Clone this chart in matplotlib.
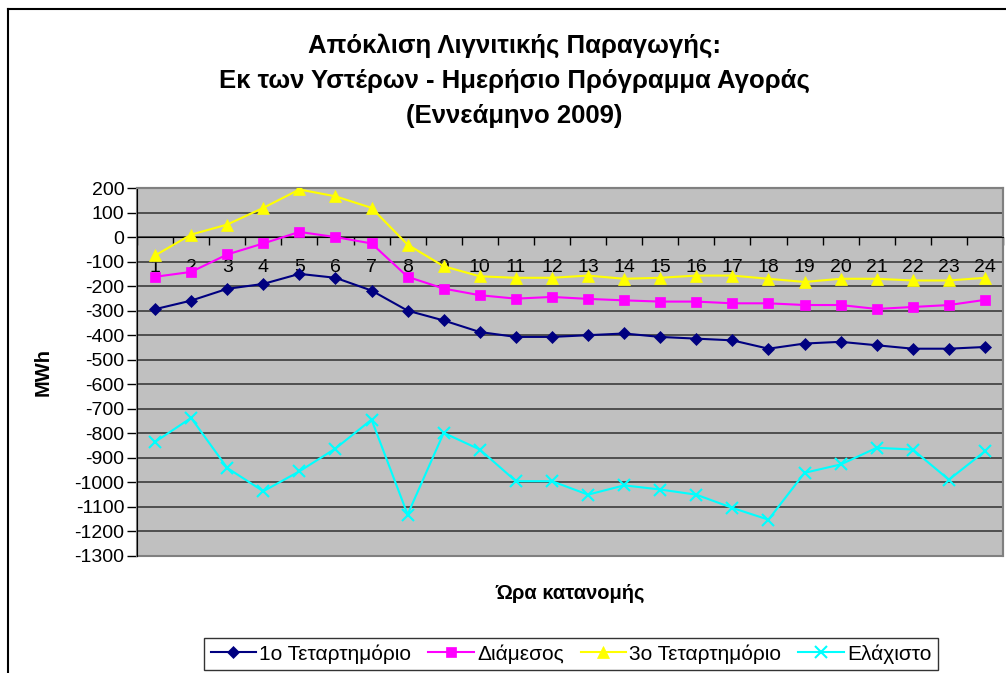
import numpy as np
import matplotlib
matplotlib.use('Agg')
import matplotlib.pyplot as plt
from matplotlib.lines import Line2D
from matplotlib.patches import Rectangle

plt.rcParams['font.family'] = ['Liberation Sans', 'DejaVu Sans']
plt.rcParams['axes.unicode_minus'] = False

# data
hours = list(range(1, 25))
q1 = [-294, -259, -211, -191, -150, -166, -218, -300, -340, -387, -407, -407,
      -400, -393, -407, -414, -421, -455, -434, -427, -441, -455, -455, -448]
median = [-162, -142, -71, -26, 21, 0, -26, -162, -210, -237, -251, -244,
          -252, -258, -263, -263, -270, -270, -277, -277, -293, -285, -277, -256]
q3 = [-75, 10, 51, 119, 194, 166, 119, -31, -119, -160, -166, -166,
      -157, -170, -166, -157, -157, -170, -183, -170, -170, -177, -177, -166]
minimum = [-835, -737, -941, -1036, -955, -862, -744, -1131, -798, -866, -995, -995,
           -1050, -1012, -1029, -1050, -1104, -1152, -961, -927, -859, -866, -989, -873]

labels = ['1ο Τεταρτημόριο', 'Διάμεσος', '3ο Τεταρτημόριο', 'Ελάχιστο']
colors = ['#000080', '#FF00FF', '#FFFF00', '#00FFFF']
markers = ['D', 's', '^', 'x']
msizes = [6, 7, 8.5, 8]

fig = plt.figure(figsize=(10.06, 6.73), dpi=100)
ax = fig.add_axes([137/1006, 1 - 556/673, (1003 - 137)/1006, (556 - 188)/673])
ax.set_facecolor('#C0C0C0')

for vals, lab, c, m, ms in zip([q1, median, q3, minimum], labels, colors, markers, msizes):
    ax.plot(hours, vals, color=c, marker=m, markersize=ms, lw=1.5, label=lab,
            markeredgewidth=1.5 if m == 'x' else 0.5, zorder=3)

ax.set_xlim(0.5, 24.5)
ax.set_ylim(-1300, 200)
ax.set_yticks(np.arange(-1300, 201, 100))
ax.yaxis.grid(True, color='#303030', lw=1.1)
ax.set_axisbelow(True)
ax.tick_params(axis='y', labelsize=14, direction='out', length=7, width=1, pad=2)

# category axis crossing at zero
ax.spines['bottom'].set_position(('data', 0))
ax.spines['bottom'].set_color('black')
ax.spines['left'].set_color('black')
for s in ['top', 'right']:
    ax.spines[s].set_color('#808080')
    ax.spines[s].set_linewidth(1.5)
ax.set_xticks(np.arange(0.5, 25, 1))
ax.set_xticklabels([])
ax.set_xticks(hours, minor=True)
ax.set_xticklabels([str(h) for h in hours], minor=True)
ax.tick_params(axis='x', which='major', direction='out', length=6, width=1)
ax.tick_params(axis='x', which='minor', length=0, labelsize=14, pad=16)
ax.add_patch(Rectangle((0, 0), 1, 1, transform=ax.transAxes, fill=False,
                       edgecolor='#808080', lw=1.5, zorder=1, clip_on=False))

fig.text(43/1006, 1 - 372/673, 'MWh', rotation=90, fontsize=14.5, fontweight='bold',
         ha='center', va='center')
fig.text(570/1006, 1 - 593/673, 'Ώρα κατανομής', fontsize=14.5, fontweight='bold',
         ha='center', va='center')

title_lines = ['Απόκλιση Λιγνιτικής Παραγωγής:',
               'Εκ των Υστέρων - Ημερήσιο Πρόγραμμα Αγοράς',
               '(Εννεάμηνο 2009)']
for i, t in enumerate(title_lines):
    fig.text(514/1006, 1 - (46 + 35*i)/673, t, fontsize=18.5, fontweight='bold',
             ha='center', va='center')

leg = fig.legend(loc='lower center', bbox_to_anchor=(571/1006, 3/673), ncol=4,
                 fontsize=15, frameon=True, fancybox=False, handlelength=2.2,
                 columnspacing=0.8, handletextpad=0.15, borderpad=0.3,
                 borderaxespad=0)
leg.get_frame().set_edgecolor('black')
leg.get_frame().set_linewidth(1)

fig.add_artist(Line2D([8/1006, 8/1006], [0, 1 - 9/673], color='black', lw=1.5))
fig.add_artist(Line2D([8/1006, 1], [1 - 9/673, 1 - 9/673], color='black', lw=1.5))

fig.savefig('out.png', dpi=100)
